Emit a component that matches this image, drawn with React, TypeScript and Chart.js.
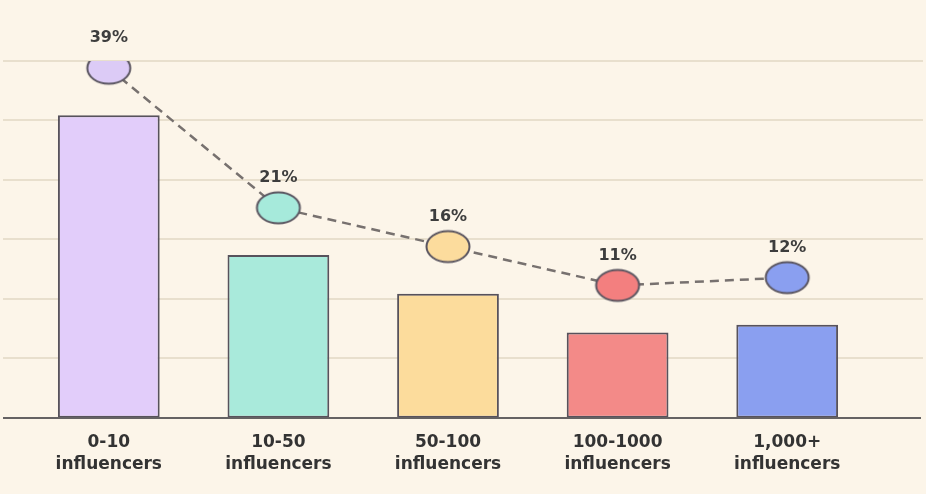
import React, { useEffect, useRef } from "react";
import { Chart, registerables } from "chart.js";

Chart.register(...registerables);

const categories: string[][] = [
  ["0-10", "influencers"],
  ["10-50", "influencers"],
  ["50-100", "influencers"],
  ["100-1000", "influencers"],
  ["1,000+", "influencers"],
];
const shares: number[] = [39, 21, 16, 11, 12];
const shareLabels: string[] = ["39%", "21%", "16%", "11%", "12%"];
const barColors: string[] = ["#e2cdfa", "#a9eadb", "#fcdc9c", "#f38a88", "#8a9ff0"];
const dotColors: string[] = ["#dccbf6", "#a6eadb", "#fcdc9d", "#f37f7f", "#8a9ff0"];

const BG = "#fcf5e9";

function makeDot(color: string): HTMLCanvasElement {
  const c = document.createElement("canvas");
  c.width = 48;
  c.height = 36;
  const ctx = c.getContext("2d")!;
  ctx.beginPath();
  ctx.ellipse(24, 18, 21.5, 15.5, 0, 0, Math.PI * 2);
  ctx.fillStyle = color;
  ctx.fill();
  ctx.lineWidth = 2;
  ctx.strokeStyle = "#5a5560";
  ctx.stroke();
  return c;
}

export default function App() {
  const ref = useRef<HTMLCanvasElement | null>(null);

  useEffect(() => {
    if (!ref.current) return;
    const dots = dotColors.map(makeDot);

    const decor = {
      id: "decor",
      beforeDatasetsDraw(chart: any) {
        const ctx = chart.ctx;
        const y = chart.scales.y;
        ctx.save();
        ctx.strokeStyle = "#e8dfcd";
        ctx.lineWidth = 2;
        y.ticks.forEach((t: any) => {
          if (t.value === 0) return;
          const py = Math.round(y.getPixelForValue(t.value));
          ctx.beginPath();
          ctx.moveTo(3, py);
          ctx.lineTo(923, py);
          ctx.stroke();
        });
        ctx.restore();
      },
      afterDatasetsDraw(chart: any) {
        const ctx = chart.ctx;
        const y = chart.scales.y;
        ctx.save();
        const py = Math.round(y.getPixelForValue(0));
        ctx.strokeStyle = "#656263";
        ctx.lineWidth = 2;
        ctx.beginPath();
        ctx.moveTo(3, py);
        ctx.lineTo(921, py);
        ctx.stroke();
        const meta = chart.getDatasetMeta(1);
        ctx.fillStyle = "#3d3d3d";
        ctx.font = "bold 16px 'DejaVu Sans'";
        ctx.textAlign = "center";
        ctx.textBaseline = "middle";
        meta.data.forEach((pt: any, i: number) => {
          ctx.fillText(shareLabels[i], pt.x, pt.y - 30);
        });
        ctx.restore();
      },
    };

    const chart = new Chart(ref.current, {
      type: "bar",
      data: {
        labels: categories,
        datasets: [
          {
            type: "bar",
            data: shares,
            backgroundColor: barColors,
            borderColor: "#57525c",
            borderWidth: 2,
            borderSkipped: false,
            barPercentage: 0.6,
            categoryPercentage: 1,
            order: 1,
            yAxisID: "y",
          } as any,
          {
            type: "line",
            data: shares,
            borderColor: "#77716f",
            borderWidth: 2.5,
            borderDash: [9, 6],
            pointStyle: dots as any,
            pointRadius: 18,
            fill: false,
            tension: 0,
            order: 0,
            yAxisID: "y2",
          } as any,
        ],
      },
      options: {
        animation: false,
        responsive: false,
        maintainAspectRatio: false,
        layout: { padding: { left: 24, right: 54, top: 61, bottom: 5 } },
        plugins: { legend: { display: false }, tooltip: { enabled: false } },
        scales: {
          x: {
            grid: { display: false, drawTicks: false },
            border: { display: false },
            ticks: {
              color: "#333333",
              font: { family: "'DejaVu Sans'", size: 17, weight: "bold", lineHeight: 1.3 } as any,
              padding: 13.5,
              maxRotation: 0,
            },
          },
          y: {
            display: false,
            min: 0,
            max: 46,
            ticks: { count: 7 },
          },
          y2: {
            display: false,
            min: -6.07,
            max: 39.93,
          },
        },
      } as any,
      plugins: [decor],
    });
    return () => chart.destroy();
  }, []);

  return (
    <div style={{ position: "fixed", left: 0, top: 0, width: 926, height: 494, background: BG }}>
      <canvas ref={ref} width={926} height={494} style={{ display: "block" }} />
    </div>
  );
}
